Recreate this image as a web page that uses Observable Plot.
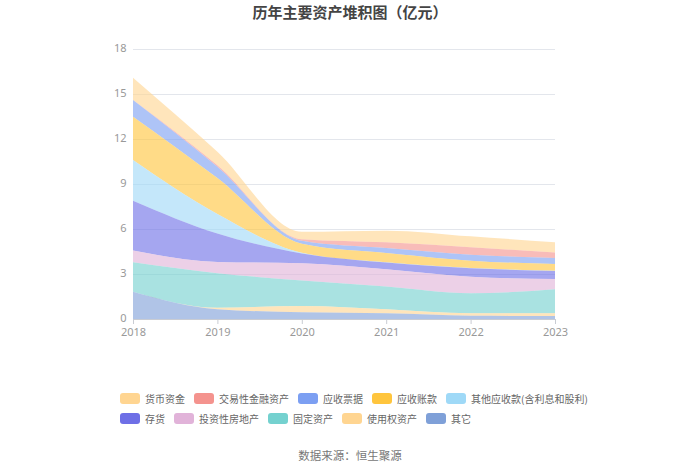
<!DOCTYPE html>
<html>
<head>
<meta charset="utf-8">
<script src="https://cdn.jsdelivr.net/npm/d3@7"></script>
<script src="https://cdn.jsdelivr.net/npm/@observablehq/plot@0.6"></script>
<style>
  body { margin: 0; background: #fff; font-family: "Noto Sans CJK SC", "Noto Sans", sans-serif; }
  #wrap { position: relative; width: 700px; height: 473px; overflow: hidden; }
  #title { position: absolute; left: 0; top: 1px; width: 700px; text-align: center; font-size: 15px; font-weight: bold; color: #444; line-height: 22px; }
  #chart { position: absolute; left: 0; top: 26px; }
  .legrow { position: absolute; left: 120px; display: flex; align-items: center; font-size: 10px; color: #666; white-space: nowrap; }
  .item { display: flex; align-items: center; margin-right: 9px; }
  .sw { width: 20px; height: 11px; border-radius: 3px; margin-right: 5px; }
  #caption { position: absolute; left: 0; top: 447px; width: 700px; text-align: center; font-size: 11.5px; color: #777; }
</style>
</head>
<body>
<div id="wrap">
  <div id="title">历年主要资产堆积图（亿元）</div>
  <div id="chart"></div>
  <div class="legrow" id="leg1" style="top:391px"></div>
  <div class="legrow" id="leg2" style="top:411px"></div>
  <div id="caption">数据来源：恒生聚源</div>
</div>
<script>
const years = [2018, 2019, 2020, 2021, 2022, 2023];
const seriesNames = ["货币资金", "交易性金融资产", "应收票据", "应收账款", "其他应收款(含利息和股利)", "存货", "投资性房地产", "固定资产", "使用权资产", "其它"];
const colors = ["#ffd591", "#f4938e", "#7c9ff2", "#ffc53d", "#9fd9f7", "#6e6fe6", "#e1b3d9", "#74d1cf", "#ffd591", "#7fa0d8"];

const v货币资金 = [1.49, 0.90, 0.49, 0.78, 0.73, 0.67];
const v交易性金融资产 = [0.00, 0.10, 0.10, 0.38, 0.49, 0.38];
const v应收票据 = [1.11, 0.75, 0.20, 0.33, 0.40, 0.40];
const v应收账款 = [2.89, 2.40, 0.60, 0.62, 0.49, 0.44];
const v其他应收款 = [2.71, 1.30, 0.05, 0.02, 0.02, 0.02];
const v存货 = [3.33, 1.90, 0.65, 0.44, 0.56, 0.53];
const v投资性房地产 = [0.78, 0.75, 1.15, 1.16, 1.11, 0.69];
const v固定资产 = [1.96, 2.30, 1.70, 1.51, 1.33, 1.60];
const v使用权资产 = [0.00, 0.10, 0.42, 0.27, 0.16, 0.18];
const v其它 = [1.82, 0.65, 0.45, 0.38, 0.22, 0.20];

const yTicks = [0, 3, 6, 9, 12, 15, 18];

const valueArrays = [v货币资金, v交易性金融资产, v应收票据, v应收账款, v其他应收款, v存货, v投资性房地产, v固定资产, v使用权资产, v其它];

const data = [];
seriesNames.forEach((s, i) => {
  years.forEach((y, j) => data.push({series: s, year: y, value: valueArrays[i][j]}));
});
const bottomFirst = seriesNames.slice().reverse();

const chart = Plot.plot({
  width: 700,
  height: 330,
  marginLeft: 133,
  marginRight: 145,
  marginTop: 23,
  marginBottom: 37,
  style: {fontFamily: "'Noto Sans', sans-serif", fontSize: "11px", color: "#999", background: "transparent"},
  x: {domain: [2018, 2023], label: null},
  y: {domain: [0, 18], label: null},
  color: {domain: seriesNames, range: colors},
  marks: [
    Plot.gridY(yTicks, {stroke: "#e3e6ec", strokeOpacity: 1}),
    Plot.areaY(data, Plot.stackY({order: bottomFirst}, {x: "year", y: "value", z: "series", fill: "series", fillOpacity: 0.62, curve: "monotone-x"})),
    Plot.ruleY([0], {stroke: "#c9ccd3"}),
    Plot.axisX({ticks: years, tickFormat: d => String(d), stroke: "#c9ccd3", tickSize: 5, tickPadding: 4, fill: "#999"}),
    Plot.axisY({ticks: yTicks, tickSize: 0, tickPadding: 7, fill: "#999", dy: -1})
  ]
});
document.getElementById("chart").appendChild(chart);

function addLegend(el, idx) {
  idx.forEach(i => {
    const it = document.createElement("div");
    it.className = "item";
    const sw = document.createElement("div");
    sw.className = "sw";
    sw.style.background = colors[i];
    const tx = document.createElement("span");
    tx.textContent = seriesNames[i];
    it.appendChild(sw); it.appendChild(tx);
    el.appendChild(it);
  });
}
addLegend(document.getElementById("leg1"), [0, 1, 2, 3, 4]);
addLegend(document.getElementById("leg2"), [5, 6, 7, 8, 9]);
</script>
</body>
</html>
